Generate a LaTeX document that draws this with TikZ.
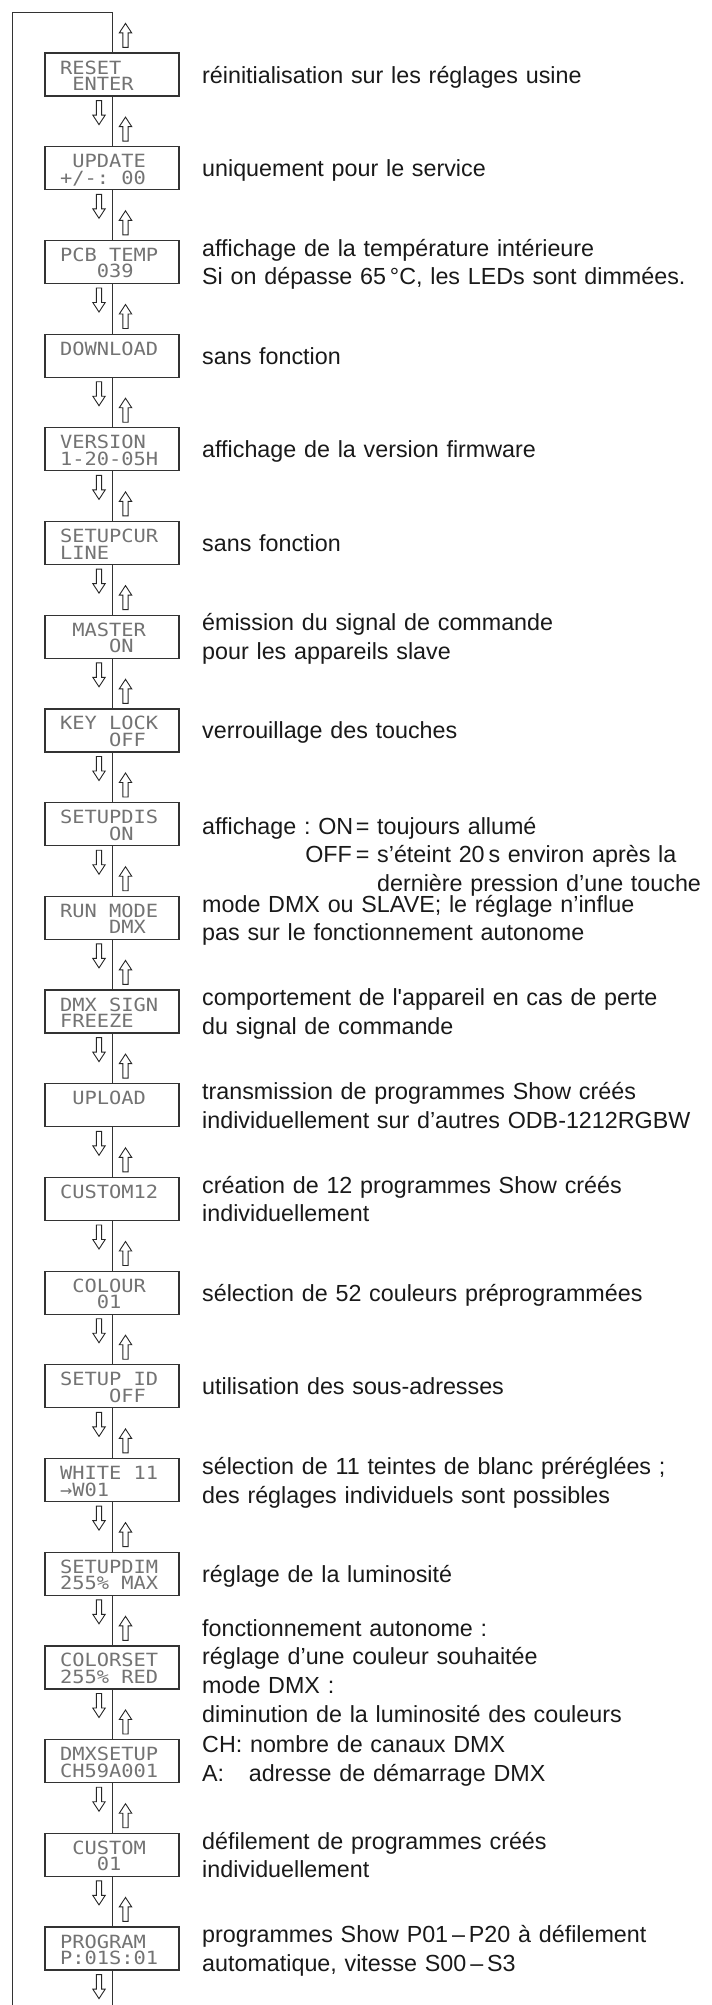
\documentclass[tikz,border=0pt]{standalone}
\usepackage{fontspec}
\usepackage{tikz}
\usetikzlibrary{positioning}
\newfontfamily\descfont{Liberation Sans}
\newfontfamily\lcdfont[FakeStretch=1.12]{DejaVu Sans Mono}
\newcommand{\lsp}{\leavevmode\phantom{0}}

\begin{document}
\begin{tikzpicture}[x=1pt, y=-1pt]
    % Define styles
    \tikzstyle{display} = [rectangle, draw=black!80, line width=1.2pt, fill=white, minimum width=134pt, minimum height=43pt, inner sep=0pt, text width=104pt, align=left, text height=13pt, text depth=14pt, text=black!55, font=\lcdfont\fontsize{18.2}{16.5}\selectfont]
    \tikzstyle{desc} = [anchor=base west, inner sep=0pt, text width=560pt, align=left, text=black!90, font=\descfont\fontsize{23.3}{28.8}\selectfont\frenchspacing]
    \tikzstyle{conn} = [draw=black!80, line width=1pt]
    \tikzstyle{hollow} = [draw=black!85, fill=white, line width=0.9pt]
    \tikzset{
        uparr/.pic={\path[hollow] (-2.6,0) -- (-2.6,-14.5) -- (-6.2,-14.5) -- (0,-24) -- (6.2,-14.5) -- (2.6,-14.5) -- (2.6,0) -- cycle;},
        dnarr/.pic={\path[hollow] (-2.6,0) -- (-2.6,14.5) -- (-6.2,14.5) -- (0,24) -- (6.2,14.5) -- (2.6,14.5) -- (2.6,0) -- cycle;}
    }
    \useasboundingbox (0,0) rectangle (712,2005);

    % Menu displays
    \node[display] (b0) at (112,74.5) {RESET\\\lsp ENTER};
    \node[display] (b1) at (112,168.2) {\lsp UPDATE\\+/-:\lsp 00};
    \node[display] (b2) at (112,261.9) {PCB\lsp TEMP\\\lsp\lsp\lsp 039};
    \node[display] (b3) at (112,355.6) {DOWNLOAD};
    \node[display] (b4) at (112,449.3) {VERSION\\1-20-05H};
    \node[display] (b5) at (112,543.0) {SETUPCUR\\LINE};
    \node[display] (b6) at (112,636.7) {\lsp MASTER\\\lsp\lsp\lsp\lsp ON};
    \node[display] (b7) at (112,730.4) {KEY\lsp LOCK\\\lsp\lsp\lsp\lsp OFF};
    \node[display] (b8) at (112,824.1) {SETUPDIS\\\lsp\lsp\lsp\lsp ON};
    \node[display] (b9) at (112,917.8) {RUN\lsp MODE\\\lsp\lsp\lsp\lsp DMX};
    \node[display] (b10) at (112,1011.5) {DMX\lsp SIGN\\FREEZE};
    \node[display] (b11) at (112,1105.2) {\lsp UPLOAD};
    \node[display] (b12) at (112,1198.9) {CUSTOM12};
    \node[display] (b13) at (112,1292.6) {\lsp COLOUR\\\lsp\lsp\lsp 01};
    \node[display] (b14) at (112,1386.3) {SETUP\lsp ID\\\lsp\lsp\lsp\lsp OFF};
    \node[display] (b15) at (112,1480.0) {WHITE\lsp 11\\→W01};
    \node[display] (b16) at (112,1573.7) {SETUPDIM\\255\%\lsp MAX};
    \node[display] (b17) at (112,1667.4) {COLORSET\\255\%\lsp RED};
    \node[display] (b18) at (112,1761.1) {DMXSETUP\\CH59A001};
    \node[display] (b19) at (112,1854.8) {\lsp CUSTOM\\\lsp\lsp\lsp 01};
    \node[display] (b20) at (112,1948.5) {PROGRAM\\P:01S:01};

    % Loop line
    \coordinate (topR) at (112,12);
    \coordinate (topL) at (12,12);
    \coordinate (botL) at (12,2005);
    \coordinate (botR) at (112,2005);
    \draw[conn] (b0) -- (topR) -- (topL) -- (botL);
    \draw[conn] (b20) -- (botR);
    \foreach \i [count=\j from 1] in {0,...,19}
        \draw[conn] (b\i) -- (b\j);

    % Up / down arrows
    \foreach \i in {0,...,20} {
        \pic at ([xshift=13.5pt,yshift=5pt]b\i.north) {uparr};
        \pic at ([xshift=-13pt,yshift=-4pt]b\i.south) {dnarr};
    }

    % Descriptions
    \node[desc] (d0) at (202,83.0) {réinitialisation sur les réglages usine};
    \node[desc] (d1) at (202,176.7) {uniquement pour le service};
    \node[desc] (d2) at (202,256.15) {affichage de la température intérieure\\Si on dépasse 65\,°C, les LEDs sont dimmées.};
    \node[desc] (d3) at (202,364.1) {sans fonction};
    \node[desc] (d4) at (202,457.8) {affichage de la version firmware};
    \node[desc] (d5) at (202,551.5) {sans fonction};
    \node[desc] (d6) at (202,630.95) {émission du signal de commande\\pour les appareils slave};
    \node[desc] (d7) at (202,738.9) {verrouillage des touches};
    \node[desc] (d8) at (202,834.1) {\makebox[175pt][l]{affichage : ON\hfill=\ }toujours allumé\\\hspace*{175pt}\llap{OFF\,= }s’éteint 20\,s environ après la\\\hspace*{175pt}dernière pression d’une touche};
    \node[desc] (d9) at (202,912.05) {mode DMX ou SLAVE; le réglage n’influe\\pas sur le fonctionnement autonome};
    \node[desc] (d10) at (202,1005.75) {comportement de l\textquotesingle appareil en cas de perte\\du signal de commande};
    \node[desc] (d11) at (202,1099.45) {transmission de programmes Show créés\\individuellement sur d’autres ODB-1212RGBW};
    \node[desc] (d12) at (202,1193.15) {création de 12 programmes Show créés\\individuellement};
    \node[desc] (d13) at (202,1301.1) {sélection de 52 couleurs préprogrammées};
    \node[desc] (d14) at (202,1394.8) {utilisation des sous-adresses};
    \node[desc] (d15) at (202,1474.25) {sélection de 11 teintes de blanc préréglées ;\\des réglages individuels sont possibles};
    \node[desc] (d16) at (202,1582.2) {réglage de la luminosité};
    \node[desc] (d17) at (202,1636.15) {fonctionnement autonome :\\réglage d’une couleur souhaitée\\mode DMX :\\diminution de la luminosité des couleurs};
    \node[desc] (d18) at (202,1752.35) {CH: nombre de canaux DMX\\\makebox[46.6pt][l]{A:}adresse de démarrage DMX};
    \node[desc] (d19) at (202,1849.05) {défilement de programmes créés\\individuellement};
    \node[desc] (d20) at (202,1942.75) {programmes Show P01\,–\,P20 à défilement\\automatique, vitesse S00\,–\,S3};
\end{tikzpicture}
\end{document}
